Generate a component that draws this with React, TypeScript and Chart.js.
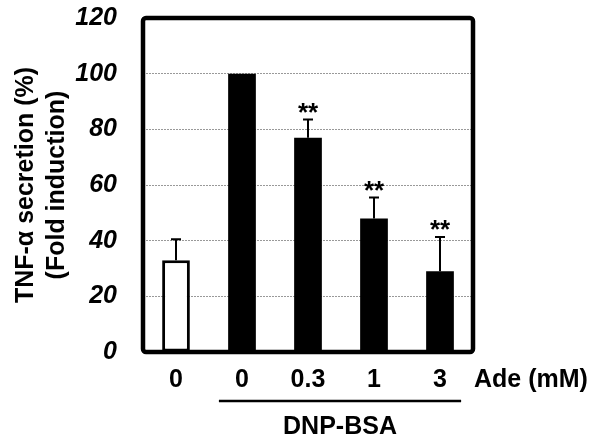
import React, { useEffect, useRef } from 'react';
import { Chart, registerables } from 'chart.js';

Chart.register(...registerables);

const categories = ['0', '0', '0.3', '1', '3'];
const values = [33, 100, 77, 48, 29];
const errors = [7.5, 0, 6.5, 7.5, 12.3];
const significance = ['', '', '**', '**', '**'];
const barColors = ['#ffffff', '#000000', '#000000', '#000000', '#000000'];
const barBorders = [3, 0, 0, 0, 0];
const yTitle = ['TNF-α secretion (%)', '(Fold induction)'];
const xUnit = 'Ade (mM)';
const groupLabel = 'DNP-BSA';
const groupStart = 1;
const groupEnd = 4;
const yMin = 0;
const yMax = 120;
const yStep = 20;

const FONT = '"Liberation Sans", Arial, sans-serif';

const overlay = {
  id: 'overlay',
  afterDatasetsDraw(chart: any) {
    const ctx = chart.ctx;
    const { left, right, top, bottom } = chart.chartArea;
    const xs = chart.scales.x;
    const ys = chart.scales.y;
    ctx.save();
    ctx.strokeStyle = '#000';
    ctx.fillStyle = '#000';
    // error bars
    ctx.lineWidth = 2;
    values.forEach((v, i) => {
      if (!errors[i]) return;
      const cx = xs.getPixelForValue(i);
      const y0 = ys.getPixelForValue(v);
      const y1 = ys.getPixelForValue(v + errors[i]);
      ctx.beginPath();
      ctx.moveTo(cx, y0);
      ctx.lineTo(cx, y1);
      ctx.moveTo(cx - 5, y1);
      ctx.lineTo(cx + 5, y1);
      ctx.stroke();
    });
    // significance marks
    ctx.font = `bold 26px ${FONT}`;
    ctx.textAlign = 'center';
    ctx.textBaseline = 'alphabetic';
    significance.forEach((s, i) => {
      if (!s) return;
      const cx = xs.getPixelForValue(i);
      const y1 = ys.getPixelForValue(values[i] + errors[i]);
      ctx.fillText(s, cx, y1 + 1);
    });
    // frame
    ctx.lineWidth = 4.5;
    ctx.beginPath();
    (ctx as any).roundRect(left, top, right - left, bottom - top, 3);
    ctx.stroke();
    // unit label
    ctx.font = `bold 25px ${FONT}`;
    ctx.textAlign = 'left';
    ctx.textBaseline = 'middle';
    ctx.fillText(xUnit, right + 1, bottom + 28);
    // group line
    const step = xs.getPixelForValue(1) - xs.getPixelForValue(0);
    const gx0 = xs.getPixelForValue(groupStart) - step * 0.35;
    const gx1 = xs.getPixelForValue(groupEnd) + step * 0.32;
    const gy = bottom + 49;
    ctx.lineWidth = 2.5;
    ctx.beginPath();
    ctx.moveTo(gx0, gy);
    ctx.lineTo(gx1, gy);
    ctx.stroke();
    ctx.textAlign = 'center';
    ctx.fillText(groupLabel, (gx0 + gx1) / 2, gy + 26);
    ctx.restore();
  },
};

export default function App() {
  const ref = useRef<HTMLCanvasElement>(null);
  useEffect(() => {
    document.body.style.margin = '0';
    Chart.defaults.font.family = FONT;
    Chart.defaults.color = '#000';
    const chart = new Chart(ref.current as HTMLCanvasElement, {
      type: 'bar',
      data: {
        labels: categories,
        datasets: [
          {
            data: values,
            backgroundColor: barColors,
            borderColor: '#000',
            borderWidth: barBorders,
            borderSkipped: false,
            categoryPercentage: 1,
            barPercentage: 0.42,
          },
        ],
      },
      options: {
        responsive: false,
        animation: false,
        layout: { padding: { left: 0, top: 18, right: 117, bottom: 0 } },
        plugins: { legend: { display: false }, tooltip: { enabled: false } },
        scales: {
          x: {
            grid: { display: false, drawTicks: false },
            border: { display: false },
            ticks: { font: { size: 25, weight: 'bold' }, padding: 13, color: '#000' },
            afterFit: (s: any) => {
              s.height = 86;
              s.paddingLeft = 0;
              s.paddingRight = 0;
            },
          },
          y: {
            min: yMin,
            max: yMax,
            grid: {
              drawTicks: false,
              color: (c: any) =>
                c.tick && (c.tick.value === yMin || c.tick.value === yMax) ? 'rgba(0,0,0,0)' : '#999999',
              lineWidth: 1,
            },
            border: { display: false, dash: [2, 1] },
            ticks: {
              stepSize: yStep,
              font: { size: 25, weight: 'bold', style: 'italic' },
              padding: 26,
              color: '#000',
            },
            title: {
              display: true,
              text: yTitle,
              font: { size: 25, weight: 'bold', lineHeight: 1.24 },
              padding: { top: 11, bottom: 0 },
              color: '#000',
            },
            afterFit: (s: any) => {
              s.width = 143;
              s.paddingTop = 0;
              s.paddingBottom = 0;
            },
          },
        },
      },
      plugins: [overlay],
    });
    return () => chart.destroy();
  }, []);
  return (
    <div style={{ width: 590, height: 438 }}>
      <canvas ref={ref} width={590} height={438} />
    </div>
  );
}
